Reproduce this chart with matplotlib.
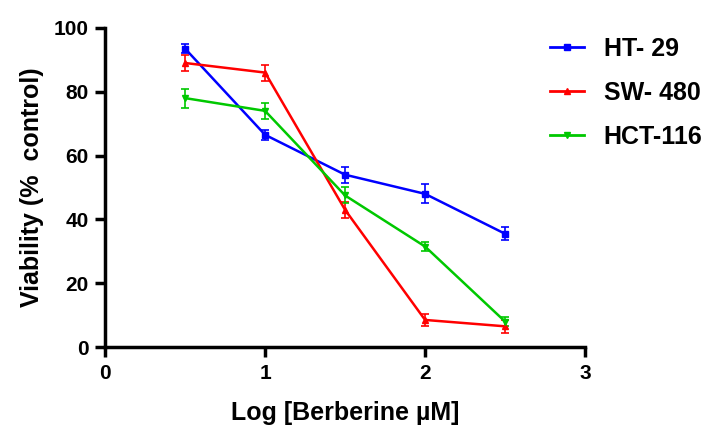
import numpy as np
import matplotlib
matplotlib.use("Agg")
import matplotlib.pyplot as plt
from matplotlib.lines import Line2D

plt.rcParams['font.family'] = ['Liberation Sans', 'DejaVu Sans']
plt.rcParams['font.weight'] = 'bold'

log_conc = [0.5, 1.0, 1.5, 2.0, 2.5]
ht29 = [93.5, 66.5, 54.0, 48.0, 35.5]
ht29_err = [1.5, 1.5, 2.5, 3.0, 2.0]
sw480 = [89.0, 86.0, 43.0, 8.5, 6.5]
sw480_err = [2.5, 2.5, 2.5, 2.0, 2.0]
hct116 = [78.0, 74.0, 47.5, 31.5, 8.0]
hct116_err = [3.0, 2.5, 2.5, 1.5, 1.5]

fig = plt.figure(figsize=(7.1, 4.29), dpi=100)
ax = fig.add_axes([0.148, 0.191, 0.676, 0.744])

series = [
    ("HT- 29", ht29, ht29_err, "#0000ff", "s", 5),
    ("SW- 480", sw480, sw480_err, "#ff0000", "^", 4),
    ("HCT-116", hct116, hct116_err, "#00c800", "v", 4),
]
handles = []
for name, y, e, c, m, ms in series:
    ax.errorbar(log_conc, y, yerr=e, color=c, marker=m, ms=ms, lw=1.8,
                capsize=3, elinewidth=1.2, capthick=1.2)
    handles.append(Line2D([], [], color=c, marker=m, ms=ms, lw=2.0, label=name))

ax.set_xlim(0, 3)
ax.set_ylim(0, 100)
ax.set_xticks([0, 1, 2, 3])
ax.set_yticks([0, 20, 40, 60, 80, 100])
for s in ["top", "right"]:
    ax.spines[s].set_visible(False)
for s in ["left", "bottom"]:
    ax.spines[s].set_linewidth(2.5)
ax.tick_params(width=2.5, length=7, labelsize=15, pad=5)
for lab in ax.get_xticklabels() + ax.get_yticklabels():
    lab.set_fontweight('bold')

ax.set_xlabel("Log [Berberine µM]", fontsize=18, fontweight='bold', labelpad=13)
ax.set_ylabel("Viability (%  control)", fontsize=18, fontweight='bold', labelpad=7)

leg = fig.legend(handles=handles, loc="upper left", bbox_to_anchor=(550/710, 1 - 37/429),
                 frameon=False, fontsize=18, handlelength=1.35, labelspacing=0.8,
                 handletextpad=0.8, borderpad=0, borderaxespad=0)
for t in leg.get_texts():
    t.set_fontweight('bold')

fig.savefig("out.png", dpi=100)
